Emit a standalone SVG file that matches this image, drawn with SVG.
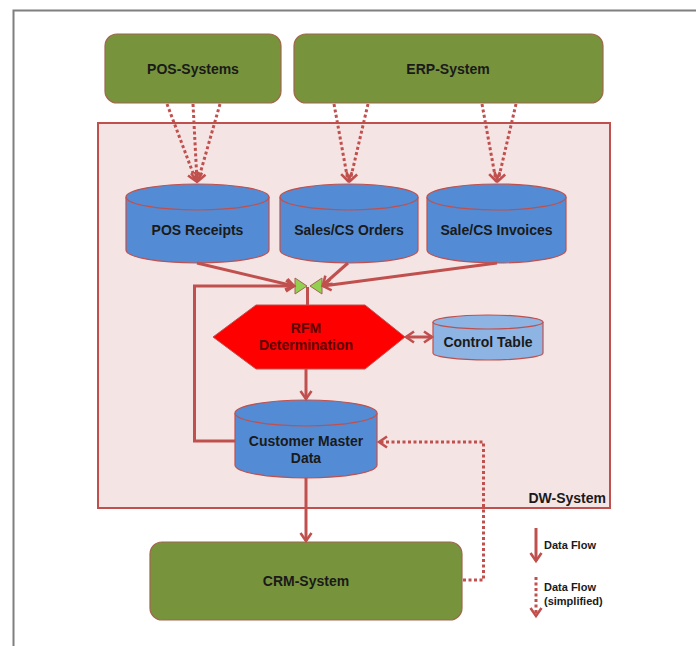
<svg xmlns="http://www.w3.org/2000/svg" width="696" height="646" viewBox="0 0 696 646">
<style>
  .sys{fill:#77933C;stroke:#A0664E;stroke-width:1.2}
  .cyl{fill:#538CD5;stroke:#C0504D;stroke-width:1.2}
  .cyl2{fill:#8DB4E2;stroke:#C0504D;stroke-width:1.2}
  .t{font-family:"Liberation Sans",Arial,sans-serif;font-weight:bold;font-size:14px;fill:#1a1a1a;text-anchor:middle}
  .lg{font-family:"Liberation Sans",Arial,sans-serif;font-weight:bold;font-size:11px;fill:#1a1a1a}
  .solid{fill:none;stroke:#C0504D;stroke-width:3}
  .dot{fill:none;stroke:#C0504D;stroke-width:3;stroke-dasharray:3 2.5}
</style>
<defs>
  <marker id="ah" viewBox="0 0 14 14" refX="11" refY="7" markerWidth="14" markerHeight="14" markerUnits="userSpaceOnUse" orient="auto-start-reverse">
    <path d="M3,1.5 L11,7 L3,12.5" fill="none" stroke="#C0504D" stroke-width="2.6"/>
  </marker>
</defs>
<rect width="696" height="646" fill="#ffffff"/>
<path d="M13.5,646 V10.5 H696" fill="none" stroke="#7f7f7f" stroke-width="2"/>

<g id="dw-system">
  <rect x="98" y="123" width="512" height="385" fill="#F5E4E4" stroke="#C0504D" stroke-width="2"/>
  <text class="t" x="606" y="503" style="text-anchor:end">DW-System</text>
</g>

<g id="pos-systems">
  <rect class="sys" x="105" y="34" width="176" height="69" rx="12"/>
  <text class="t" x="193" y="74">POS-Systems</text>
</g>
<g id="erp-system">
  <rect class="sys" x="294" y="34" width="309" height="69" rx="12"/>
  <text class="t" x="448" y="74">ERP-System</text>
</g>
<g id="crm-system">
  <rect class="sys" x="150" y="542" width="312" height="78" rx="12"/>
  <text class="t" x="306" y="586">CRM-System</text>
</g>

<g id="pos-receipts">
  <path class="cyl" d="M126,197 V250 A71.5,13 0 0 0 269,250 V197"/>
  <ellipse class="cyl" cx="197.5" cy="197" rx="71.5" ry="13"/>
  <text class="t" x="197.5" y="235">POS Receipts</text>
</g>
<g id="sales-orders">
  <path class="cyl" d="M280,197 V250 A69,13 0 0 0 418,250 V197"/>
  <ellipse class="cyl" cx="349" cy="197" rx="69" ry="13"/>
  <text class="t" x="349" y="235">Sales/CS Orders</text>
</g>
<g id="sale-invoices">
  <path class="cyl" d="M427,197 V250 A69.5,13 0 0 0 566,250 V197"/>
  <ellipse class="cyl" cx="496.5" cy="197" rx="69.5" ry="13"/>
  <text class="t" x="496.5" y="235">Sale/CS Invoices</text>
</g>

<g id="rfm-determination">
  <polygon points="213,337 256,305 365,305 405,337 365,369 256,369" fill="#FF0000" stroke="#C0504D" stroke-width="1"/>
  <text class="t" x="306" y="333" style="fill:#5A0000">RFM</text>
  <text class="t" x="306" y="350" style="fill:#5A0000">Determination</text>
</g>

<g id="control-table">
  <path class="cyl2" d="M433,322 V353 A55,7 0 0 0 543,353 V322"/>
  <ellipse class="cyl2" cx="488" cy="322" rx="55" ry="7"/>
  <text class="t" x="488" y="347">Control Table</text>
</g>

<g id="customer-master-data">
  <path class="cyl" d="M235,413 V465 A71,13 0 0 0 377,465 V413"/>
  <ellipse class="cyl" cx="306" cy="413" rx="71" ry="13"/>
  <text class="t" x="306" y="446">Customer Master</text>
  <text class="t" x="306" y="463">Data</text>
</g>

<g id="merge">
  <polygon points="295,278 307,286 295,294" fill="#92D050" stroke="#A0664E" stroke-width="1"/>
  <polygon points="322,278 310,286 322,294" fill="#92D050" stroke="#A0664E" stroke-width="1"/>
</g>

<g id="connectors">
  <path class="dot" d="M167,104 L196,181" marker-end="url(#ah)"/>
  <path class="dot" d="M193,104 L197,181" marker-end="url(#ah)"/>
  <path class="dot" d="M220,104 L198,181" marker-end="url(#ah)"/>
  <path class="dot" d="M334,104 L348,181" marker-end="url(#ah)"/>
  <path class="dot" d="M368,104 L350,181" marker-end="url(#ah)"/>
  <path class="dot" d="M482,104 L496,181" marker-end="url(#ah)"/>
  <path class="dot" d="M516,104 L498,181" marker-end="url(#ah)"/>

  <path class="solid" d="M197,263 L294,286" marker-end="url(#ah)"/>
  <path class="solid" d="M348,263 L323,285" marker-end="url(#ah)"/>
  <path class="solid" d="M497,263 L323,286" marker-end="url(#ah)"/>
  <path class="solid" d="M235,441 H194.5 V286 H294" marker-end="url(#ah)"/>
  <path class="solid" d="M307.5,287 V305"/>
  <path class="solid" d="M306,369 V399" marker-end="url(#ah)"/>
  <path class="solid" d="M406,337 H432" marker-start="url(#ah)" marker-end="url(#ah)"/>
  <path class="solid" d="M306,478 V541" marker-end="url(#ah)"/>
  <path class="dot" d="M463,580 H483.5 V442 H379" marker-end="url(#ah)"/>
</g>

<g id="legend">
  <path class="solid" d="M536,528 V561" marker-end="url(#ah)"/>
  <text class="lg" x="544" y="549">Data Flow</text>
  <path class="dot" d="M536,577 V616" marker-end="url(#ah)"/>
  <text class="lg" x="544" y="591">Data Flow</text>
  <text class="lg" x="544" y="605">(simplified)</text>
</g>
</svg>
